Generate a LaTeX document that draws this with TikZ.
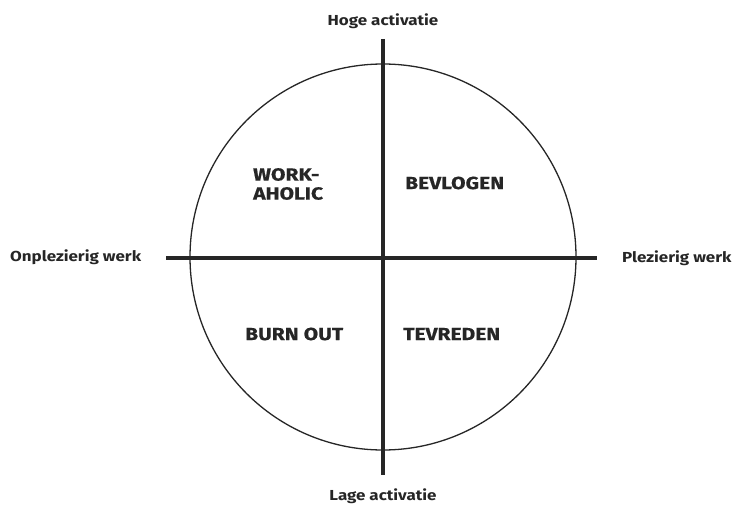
\documentclass[tikz,border=0pt]{standalone}
\usepackage{fontspec}
\setmainfont{Fira Sans}
\newfontfamily\axfont[FakeStretch=1.17]{Fira Sans}
\newfontfamily\qdfont[FakeStretch=1.2,FakeBold=0.6]{Fira Sans}
\begin{document}
\begin{tikzpicture}[x=1pt,y=-1pt,
  axislabel/.style={font=\axfont\bfseries\fontsize{14.5}{17}\selectfont, text=black!85, inner sep=0pt},
  quadlabel/.style={font=\qdfont\bfseries\fontsize{17.5}{19}\selectfont, text=black!85, inner sep=0pt, align=left},
  axisline/.style={line width=3.5pt, black!85},
  ring/.style={line width=1.3pt, black!85}]
\useasboundingbox (0,0) rectangle (733,505);
\coordinate (c) at (383,257);
\draw[ring] (c) circle[radius=193];
\coordinate (top) at (383,39);
\coordinate (bot) at (383,475);
\coordinate (lft) at (166,258);
\coordinate (rgt) at (597,258);
\draw[axisline] (top) -- (bot);
\draw[axisline] (lft) -- (rgt);
\node[axislabel] (hoge) at (383,21) {Hoge activatie};
\node[axislabel] (lage) at (383,496) {Lage activatie};
\node[axislabel, anchor=west] (onpl) at (10,257) {Onplezierig werk};
\node[axislabel, anchor=west] (pl) at (622,258) {Plezierig werk};
\node[quadlabel, anchor=west] (work) at (253,184) {WORK-\\AHOLIC};
\node[quadlabel, anchor=west] (bev) at (405,183) {BEVLOGEN};
\node[quadlabel, anchor=west] (burn) at (245,334) {BURN OUT};
\node[quadlabel, anchor=west] (tev) at (403,334) {TEVREDEN};
\end{tikzpicture}
\end{document}
